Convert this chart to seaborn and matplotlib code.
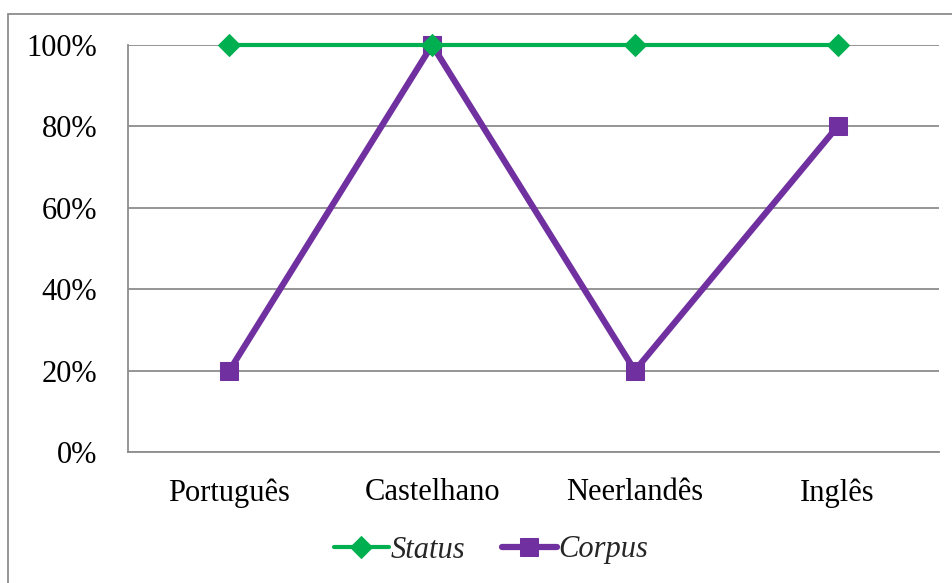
#!/usr/bin/env python3

import matplotlib
matplotlib.use("Agg")
import matplotlib.pyplot as plt
import matplotlib.patches as patches
import seaborn as sns
import pandas

# Chart data
idiomas = ["Português", "Castelhano", "Neerlandês", "Inglês"]
status = [100, 100, 100, 100]
corpus = [20, 100, 20, 80]
y_ticks = [0, 20, 40, 60, 80, 100]

sns.set_style("white")
plt.rcParams["font.family"] = ["Liberation Serif", "DejaVu Serif"]

df = pandas.DataFrame({
    "idioma": idiomas * 2,
    "valor": status + corpus,
    "serie": ["Status"] * 4 + ["Corpus"] * 4,
})

fig = plt.figure(figsize=(9.53, 5.83), dpi=100)
ax = fig.add_axes([128 / 953, 1 - 452 / 583, (939 - 128) / 953, (452 - 45) / 583])

# outer chart border (cut off at the right and bottom like the reference)
fig.patches.append(patches.Rectangle((8 / 953, -0.05), 1.2, 1 - 14 / 583 + 0.05,
                                     transform=fig.transFigure, fill=False,
                                     edgecolor="#8c8c8c", linewidth=1.3, zorder=0))

ax.grid(axis="y", color="#8c8c8c", linewidth=1.3)
ax.set_axisbelow(True)

colors = {"Status": "#00B050", "Corpus": "#7030A0"}
sns.lineplot(data=df[df.serie == "Corpus"], x="idioma", y="valor", ax=ax,
             color=colors["Corpus"], linewidth=4.5, marker="s", markersize=13,
             markeredgecolor=colors["Corpus"], label="Corpus", zorder=3,
             clip_on=False)
sns.lineplot(data=df[df.serie == "Status"], x="idioma", y="valor", ax=ax,
             color=colors["Status"], linewidth=3, marker="D", markersize=11,
             markeredgecolor=colors["Status"], label="Status", zorder=4,
             clip_on=False)

ax.set_xlim(-0.5, 3.5)
ax.set_ylim(0, 100)
ax.set_yticks(y_ticks)
ax.set_yticklabels([f"{v}%" for v in y_ticks])
ax.set_xlabel("")
ax.set_ylabel("")
ax.tick_params(axis="both", length=0, labelsize=22, labelcolor="black")
ax.tick_params(axis="y", pad=22)
ax.tick_params(axis="x", pad=19)

for side in ["top", "right"]:
    ax.spines[side].set_visible(False)
for side in ["left", "bottom"]:
    ax.spines[side].set_color("#8c8c8c")
    ax.spines[side].set_linewidth(1.3)

handles, labels = ax.get_legend_handles_labels()
order = [labels.index("Status"), labels.index("Corpus")]
leg = ax.legend([handles[i] for i in order], [labels[i] for i in order],
                loc="center", bbox_to_anchor=(0.515, 1 - 550 / 583),
                bbox_transform=fig.transFigure, ncol=2, frameon=False,
                prop={"style": "italic", "size": 22}, handlelength=1.8,
                handletextpad=0.05, columnspacing=1.2)

fig.savefig("out.png", dpi=100)
